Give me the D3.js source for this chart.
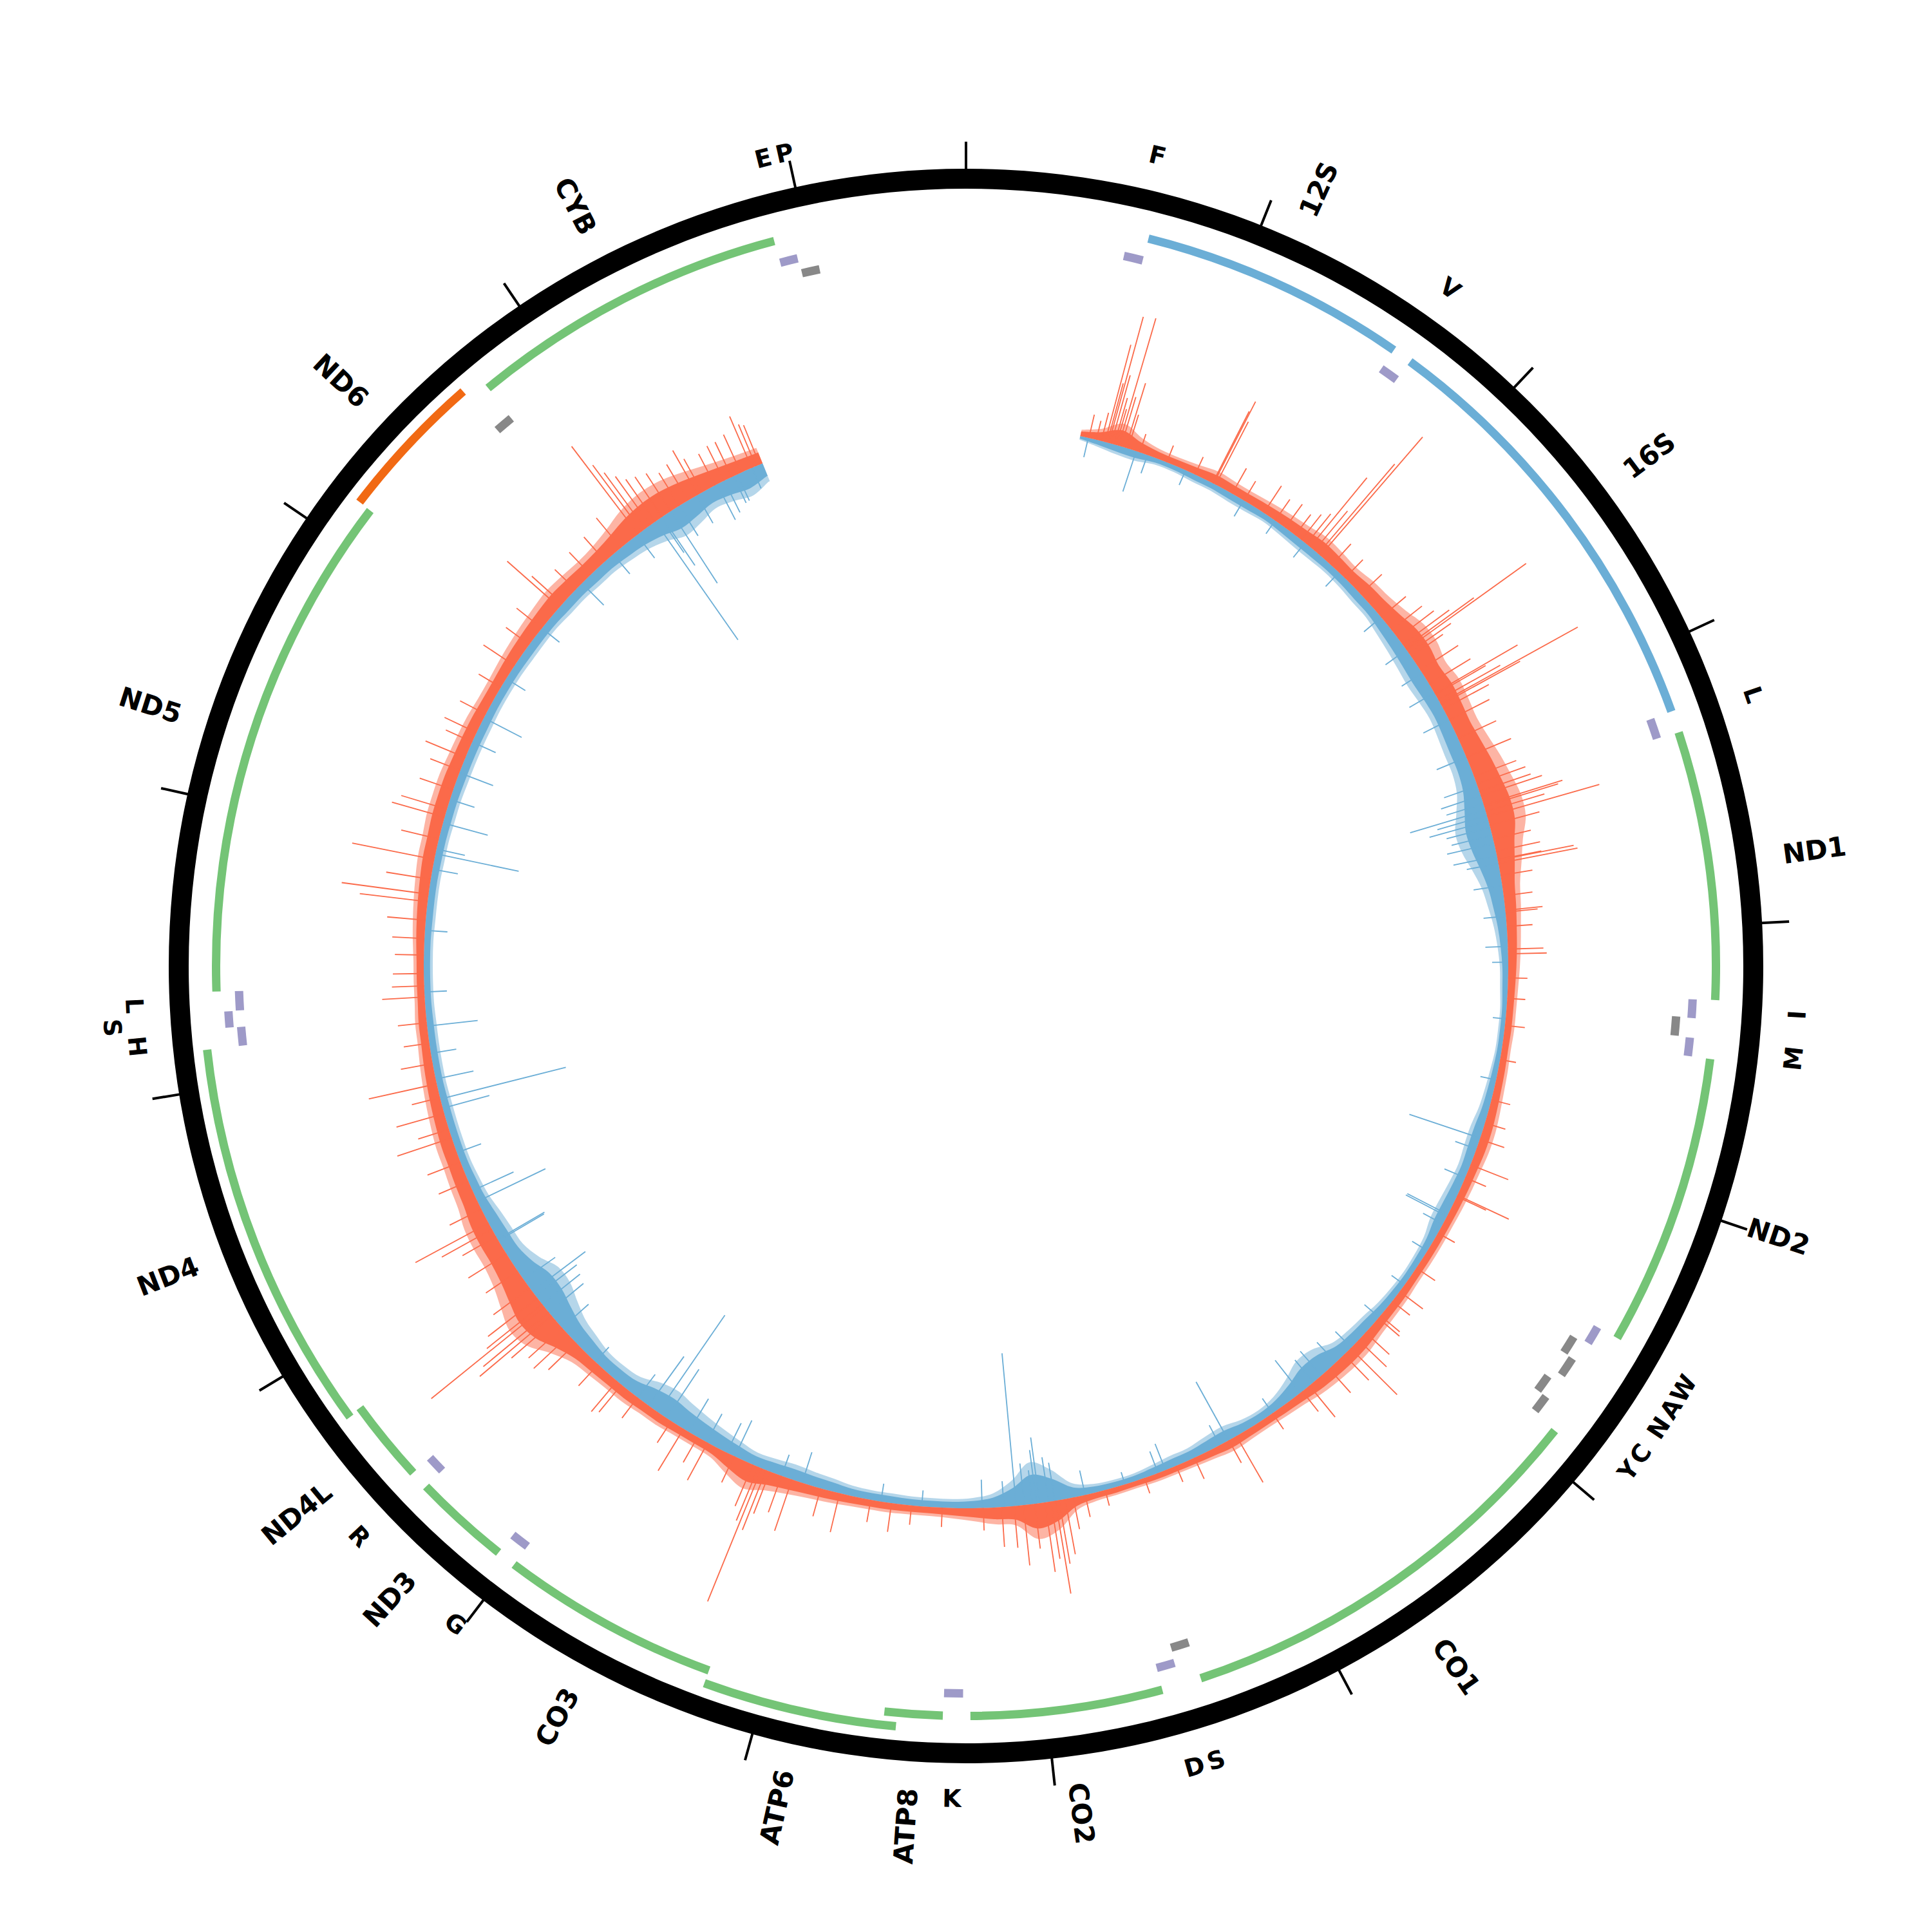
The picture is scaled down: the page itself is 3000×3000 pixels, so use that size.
<!DOCTYPE html>
<html><head><meta charset="utf-8">
<script src="https://cdn.jsdelivr.net/npm/d3@7"></script>
<style>body{margin:0;background:#fff}svg{display:block}</style>
</head><body>
<svg id="chart" width="3000" height="3000"></svg>
<script>
// ---------------- data ----------------
const GENOME = 16569;
const tickValues = [0,1000,2000,3000,4000,5000,6000,7000,8000,9000,10000,11000,12000,13000,14000,15000,16000];

// genes
const geneNames  = ["12S","16S","ND1","ND2","CO1","CO2","ATP8","ATP6","CO3","ND3","ND4L","ND4","ND5","ND6","CYB"];
const geneStarts = [648,1671,3307,4470,5904,7586,8366,8527,9207,10059,10470,10760,12337,14149,14747];
const geneEnds   = [1601,3229,4262,5511,7445,8269,8572,9207,9990,10404,10766,12137,14148,14673,15887];
const geneTypes  = ["rRNA","rRNA","CDS","CDS","CDS","CDS","CDS","CDS","CDS","CDS","CDS","CDS","CDS","CDS","CDS"];
const geneStrand = ["H","H","H","H","H","H","H","H","H","H","H","H","H","L","H"];

// tRNAs
const trnaNames  = ["F","V","L1","I","Q","M","W","A","N","C","Y","S1","D","K","G","R","H","S2","L2","E","T","P"];
const trnaLabels = ["F","V","L","I","","M","W","A","N","C","Y","S","D","K","G","R","H","S","L","","E","P"];
const trnaStarts = [577,1602,3230,4263,4329,4402,5512,5587,5657,5761,5826,7446,7518,8295,9991,10405,12138,12207,12266,14674,15888,15956];
const trnaEnds   = [647,1670,3304,4331,4400,4469,5579,5655,5729,5826,5891,7514,7585,8364,10058,10469,12206,12265,12336,14742,15953,16023];
const trnaStrand = ["H","H","H","H","L","H","H","L","L","L","L","L","H","H","H","H","H","H","H","L","H","L"];

// coverage track: 100 bp bins starting at 500; outward (red) and inward (blue) envelope heights
const covStart = 500, binSize = 100, covFirst = 560, covLast = 15555;
const redBody = [10,18,35,22,15,14,16,20,18,18,20,22,24,28,26,24,28,30,36,45,46,40,44,42,40,44,50,55,60,58,45,36,28,25,22,20,18,16,15,15,14,15,16,18,20,20,18,17,16,15,15,15,15,17,18,20,24,25,24,22,18,16,15,16,18,15,13,12,12,11,12,13,20,45,55,30,26,20,16,14,14,15,15,16,18,20,24,30,40,30,18,16,16,18,18,20,20,22,26,40,60,65,55,45,40,40,38,32,30,28,28,26,24,22,20,18,18,16,16,16,18,20,22,24,26,26,28,28,28,26,25,24,22,22,24,26,28,30,32,30,28,30,36,45,50,50,45,38,32,28,26];
const blueBody = [6,10,14,15,10,10,12,12,14,14,12,14,16,16,15,16,18,18,22,25,28,30,28,26,28,30,30,34,45,55,52,42,32,26,20,16,13,12,10,10,10,12,14,16,20,20,18,20,22,22,16,14,13,14,16,20,22,26,40,42,30,20,16,18,24,22,18,18,15,12,12,14,22,50,65,40,22,16,14,14,14,15,15,16,20,22,24,22,20,25,30,35,40,45,40,28,25,25,30,35,45,55,55,40,30,28,25,20,18,16,16,16,16,15,15,15,15,14,14,14,14,15,15,15,16,16,17,17,18,18,18,18,17,17,17,18,18,18,20,20,22,22,25,28,35,45,40,32,35,40,30];

// isolated peaks: [position bp, height]
const redSpikes = [[603,37],[640,30],[665,45],[684,156],[695,95],[703,203],[715,110],[730,75],[740,58],[752,206],[765,80],[788,105],[800,55],[860,30],[1000,28],[1150,30],[1245,125],[1250,143],[1262,110],[1353,45],[1420,35],[1533,50],[1600,40],[1660,45],[1720,40],[1758,50],[1790,60],[1813,139],[1840,80],[1864,183],[1878,243],[1950,45],[2040,40],[2150,45],[2300,50],[2380,60],[2430,70],[2468,90],[2488,132],[2499,229],[2520,80],[2540,60],[2620,70],[2700,75],[2752,149],[2760,90],[2790,110],[2808,244],[2816,140],[2840,80],[2900,70],[3000,65],[3100,75],[3200,70],[3240,80],[3278,84],[3300,100],[3346,128],[3355,120],[3380,95],[3406,181],[3450,80],[3520,60],[3580,70],[3622,69],[3625,120],[3640,125],[3700,50],[3800,45],[3871,58],[3880,50],[3950,40],[4060,55],[4083,60],[4200,30],[4300,28],[4432,31],[4600,25],[4800,30],[4917,33],[5000,40],[5132,63],[5200,35],[5293,88],[5300,50],[5500,30],[5700,35],[5840,45],[5900,35],[5990,39],[6006,43],[6100,50],[6150,60],[6206,102],[6250,55],[6350,50],[6476,63],[6520,40],[6700,30],[6908,83],[6950,40],[7138,36],[7235,27],[7400,25],[7600,25],[7700,35],[7760,50],[7800,87],[7830,100],[7848,146],[7870,90],[7899,109],[7950,70],[8005,94],[8050,65],[8110,62],[8200,35],[8400,30],[8550,30],[8648,45],[8750,35],[8905,62],[9000,45],[9146,84],[9200,60],[9260,70],[9280,100],[9303,223],[9320,90],[9350,70],[9450,45],[9594,66],[9650,45],[9729,76],[9800,40],[10000,40],[10100,55],[10128,62],[10250,45],[10400,60],[10450,75],[10500,70],[10550,90],[10578,146],[10600,132],[10633,226],[10650,110],[10688,97],[10750,70],[10850,60],[10950,70],[11050,60],[11090,89],[11124,129],[11200,55],[11350,50],[11450,55],[11576,89],[11620,50],[11700,77],[11780,45],[11849,108],[11950,50],[12050,40],[12150,45],[12276,66],[12330,50],[12390,48],[12480,45],[12560,50],[12650,60],[12740,106],[12777,136],[12850,70],[12948,130],[13050,60],[13160,85],[13200,74],[13300,55],[13400,50],[13467,67],[13550,45],[13600,55],[13700,45],[13850,40],[13975,58],[14100,45],[14200,50],[14333,108],[14356,64],[14450,45],[14553,48],[14650,50],[14750,60],[14857,171],[14880,128],[14900,108],[14930,93],[14960,80],[15000,75],[15050,70],[15100,60],[15150,65],[15205,79],[15230,59],[15300,55],[15350,60],[15391,60],[15440,65],[15498,87],[15520,70],[15540,66]];
const blueSpikes = [[600,31],[842,66],[900,30],[1100,25],[1418,29],[1600,25],[1781,29],[2000,30],[2300,35],[2500,40],[2637,38],[2750,45],[2900,45],[3100,50],[3250,55],[3300,65],[3340,60],[3374,122],[3400,80],[3428,95],[3460,70],[3500,65],[3540,75],[3604,69],[3640,50],[3750,45],[3900,35],[4047,35],[4124,25],[4400,20],[4700,25],[4994,116],[5050,35],[5200,35],[5398,71],[5408,72],[5450,35],[5600,28],[5800,25],[6000,30],[6200,35],[6305,43],[6400,50],[6450,45],[6531,64],[6700,28],[6952,104],[7000,35],[7291,44],[7330,36],[7500,20],[7700,39],[7850,60],[7880,70],[7925,103],[7940,84],[7960,53],[8000,65],[8040,238],[8100,40],[8206,44],[8500,25],[8700,28],[9094,50],[9200,35],[9446,62],[9490,51],[9600,50],[9700,60],[9827,91],[9878,183],[9934,94],[10000,45],[10270,31],[10500,55],[10600,70],[10650,75],[10700,80],[10729,103],[10800,60],[11026,82],[11033,84],[11242,117],[11300,70],[11500,40],[11727,75],[11773,201],[11873,60],[12000,40],[12134,79],[12300,35],[12600,35],[12900,40],[12977,132],[13000,45],[13131,72],[13250,40],[13388,56],[13550,40],[13680,66],[13900,35],[14200,35],[14493,48],[14700,40],[14850,45],[14960,224],[14990,65],[15000,91],[15050,133],[15100,55],[15200,50],[15311,62],[15350,55],[15400,46],[15420,45],[15500,35]];

// ---------------- drawing ----------------
const cx = 1500, cy = 1500;
const RAD = {base: 842, ringIn: 1207, ringOut: 1238, tickOut: 1280,
  gene: [[1158,1171],[1179,1192]], trnaH: [[1123,1136],[1141,1154]], trnaL: [[1099,1112],[1115,1128]],
  geneLabel: 1280, trnaLabel: 1293, trnaLabelStep: 36};
const COL = {red:"#fb6a4a", blue:"#6baed6", cds:"#74c476", rRNA:"#6baed6", cdsL:"#f16913", trnaH:"#9e9ac8", trnaL:"#888888"};
const FONT = "'DejaVu Sans', sans-serif";
const CORE = 0.7, FRINGE_OPACITY = 0.5;

const svg = d3.select("#chart");
const g = svg.append("g").attr("transform", `translate(${cx},${cy})`);
const ang = d3.scaleLinear().domain([0, GENOME]).range([0, 2 * Math.PI]);
const hgt = d3.scaleLinear().domain([0, 250]).range([0, 250]);
const deg = bp => ang(bp) * 180 / Math.PI;

// coverage envelope points
const pts = [];
pts.push({bp: covFirst, r: redBody[0], b: blueBody[0]});
redBody.forEach((v, i) => {
  const bp = covStart + binSize * (i + 0.5);
  if (bp > covFirst && bp < covLast) pts.push({bp, r: v, b: blueBody[i]});
});
pts.push({bp: covLast, r: redBody[redBody.length - 1], b: blueBody[blueBody.length - 1]});

const curve = d3.curveCatmullRom.alpha(0.5);
function radialArea(sign, key, k) {
  return d3.areaRadial().angle(d => ang(d.bp))
    .innerRadius(d => sign > 0 ? RAD.base : RAD.base - k * hgt(d[key]))
    .outerRadius(d => sign > 0 ? RAD.base + k * hgt(d[key]) : RAD.base)
    .curve(curve);
}
function spikes(data, sign, color) {
  g.append("g").selectAll("line").data(data).join("line")
    .each(function(d){
      const p1 = d3.pointRadial(ang(d[0]), RAD.base), p2 = d3.pointRadial(ang(d[0]), RAD.base + sign * hgt(d[1]));
      d3.select(this).attr("x1", p1[0]).attr("y1", p1[1]).attr("x2", p2[0]).attr("y2", p2[1]);
    })
    .attr("stroke", color).attr("stroke-width", 1.8);
}
// blue (inward)
g.append("path").datum(pts).attr("d", radialArea(-1, "b", 1)).attr("fill", COL.blue).attr("fill-opacity", FRINGE_OPACITY);
g.append("path").datum(pts).attr("d", radialArea(-1, "b", CORE)).attr("fill", COL.blue);
spikes(blueSpikes, -1, COL.blue);
// red (outward)
g.append("path").datum(pts).attr("d", radialArea(1, "r", 1)).attr("fill", COL.red).attr("fill-opacity", FRINGE_OPACITY);
g.append("path").datum(pts).attr("d", radialArea(1, "r", CORE)).attr("fill", COL.red);
spikes(redSpikes, 1, COL.red);

// outer ring + ticks
g.append("path").attr("d", d3.arc()({innerRadius: RAD.ringIn, outerRadius: RAD.ringOut, startAngle: 0, endAngle: 2*Math.PI})).attr("fill", "#000");
g.append("g").selectAll("line").data(tickValues).join("line")
  .each(function(t){
    const p1 = d3.pointRadial(ang(t), RAD.ringOut - 2), p2 = d3.pointRadial(ang(t), RAD.tickOut);
    d3.select(this).attr("x1", p1[0]).attr("y1", p1[1]).attr("x2", p2[0]).attr("y2", p2[1]);
  })
  .attr("stroke", "#000").attr("stroke-width", 4);

// genes with level assignment (overlap -> outer level, L strand -> outer level)
const genes = geneNames.map((n, i) => ({name: n, start: geneStarts[i], end: geneEnds[i], type: geneTypes[i], strand: geneStrand[i]}));
let lastBaseEnd = -1;
genes.forEach(d => {
  if (d.strand === "L") d.level = 1;
  else if (d.start < lastBaseEnd) d.level = 1;
  else { d.level = 0; lastBaseEnd = d.end; }
});
const arc = d3.arc();
g.append("g").selectAll("path").data(genes).join("path")
  .attr("d", d => arc({innerRadius: RAD.gene[d.level][0], outerRadius: RAD.gene[d.level][1], startAngle: ang(d.start), endAngle: ang(d.end)}))
  .attr("fill", d => d.type === "rRNA" ? COL.rRNA : (d.strand === "L" ? COL.cdsL : COL.cds));

// tRNAs: adjacent same-strand tRNAs are staggered
const trnas = trnaNames.map((n, i) => ({name: n, label: trnaLabels[i], start: trnaStarts[i], end: trnaEnds[i], strand: trnaStrand[i], mid: (trnaStarts[i] + trnaEnds[i]) / 2}));
const prevBy = {};
trnas.forEach(d => {
  const p = prevBy[d.strand];
  d.level = (p && d.start - p.end < 10 && p.level === 0) ? 1 : 0;
  prevBy[d.strand] = d;
});
// label stagger: labels closer than 65 bp to the previous label are pushed outward
let prevLab = null;
trnas.filter(d => d.label).forEach(d => {
  d.labLevel = (prevLab && d.mid - prevLab.mid < 65 && prevLab.labLevel === 0) ? 1 : 0;
  prevLab = d;
});
g.append("g").selectAll("path").data(trnas).join("path")
  .attr("d", d => {
    const lv = (d.strand === "H" ? RAD.trnaH : RAD.trnaL)[d.level];
    return arc({innerRadius: lv[0], outerRadius: lv[1], startAngle: ang(d.start), endAngle: ang(d.end)});
  })
  .attr("fill", d => d.strand === "H" ? COL.trnaH : COL.trnaL);

// gene labels (radial)
g.append("g").selectAll("text").data(genes).join("text")
  .attr("transform", d => {
    const mid = (d.start + d.end) / 2, a = deg(mid), p = d3.pointRadial(ang(mid), RAD.geneLabel);
    return `translate(${p[0]},${p[1]}) rotate(${a < 180 ? a - 90 : a + 90})`;
  })
  .attr("text-anchor", d => deg((d.start + d.end) / 2) < 180 ? "start" : "end")
  .attr("dominant-baseline", "central")
  .attr("font-family", FONT).attr("font-weight", "bold").attr("font-size", 42)
  .text(d => d.name);

// tRNA labels (tangential)
g.append("g").selectAll("text").data(trnas.filter(d => d.label)).join("text")
  .attr("transform", d => {
    const a = deg(d.mid);
    const p = d3.pointRadial(ang(d.mid), RAD.trnaLabel + d.labLevel * RAD.trnaLabelStep);
    const rot = (a > 90 && a < 270) ? a - 180 : a;
    return `translate(${p[0]},${p[1]}) rotate(${rot})`;
  })
  .attr("text-anchor", "middle").attr("dominant-baseline", "central")
  .attr("font-family", FONT).attr("font-weight", "bold").attr("font-size", 38)
  .text(d => d.label);
</script>
</body></html>
